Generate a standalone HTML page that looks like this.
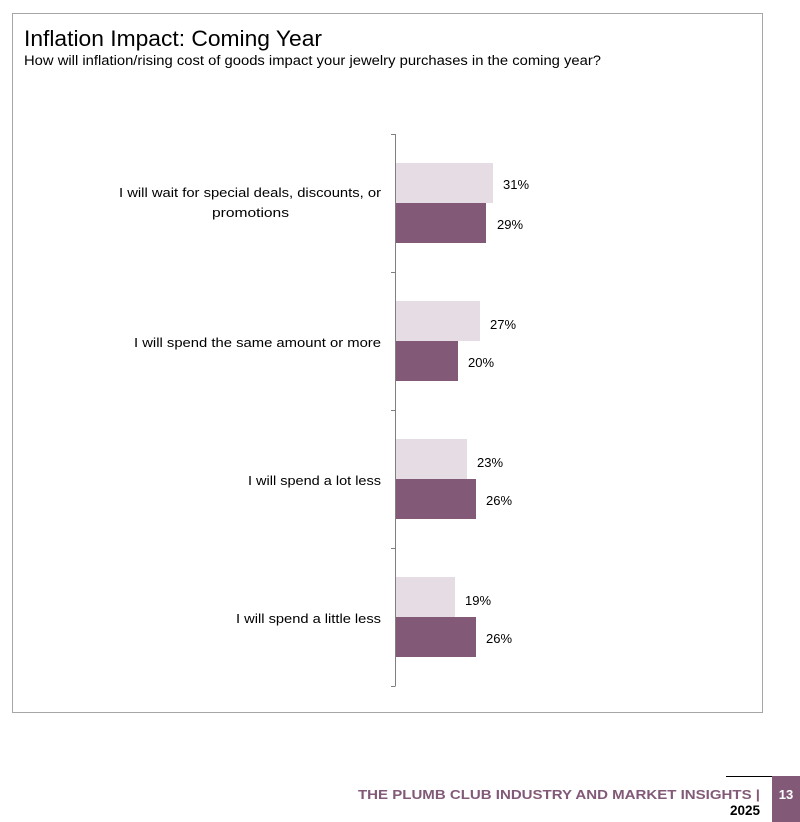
<!DOCTYPE html>
<html><head><meta charset="utf-8"><style>
body{margin:0;background:#fff;}
svg{display:block;font-family:"Liberation Sans",sans-serif;}
</style></head><body>
<svg width="800" height="822" viewBox="0 0 800 822" xmlns="http://www.w3.org/2000/svg">
<rect x="12.5" y="13.5" width="750" height="699" fill="#fff" stroke="#a6a6a6" stroke-width="1"/>
<text x="24" y="46" font-size="22" fill="#000" textLength="298" lengthAdjust="spacingAndGlyphs">Inflation Impact: Coming Year</text>
<text x="24" y="65" font-size="13.5" fill="#000" textLength="577" lengthAdjust="spacingAndGlyphs">How will inflation/rising cost of goods impact your jewelry purchases in the coming year?</text>
<g stroke="#808080" stroke-width="1">
<line x1="395.5" y1="134" x2="395.5" y2="686"/>
<line x1="391" y1="134.5" x2="395.5" y2="134.5"/>
<line x1="391" y1="272.5" x2="395.5" y2="272.5"/>
<line x1="391" y1="410.5" x2="395.5" y2="410.5"/>
<line x1="391" y1="548.5" x2="395.5" y2="548.5"/>
<line x1="391" y1="686.5" x2="395.5" y2="686.5"/>
</g>
<g fill="#e6dce4">
<rect x="396" y="163" width="97" height="40"/>
<rect x="396" y="301" width="84" height="40"/>
<rect x="396" y="439" width="71" height="40"/>
<rect x="396" y="577" width="59" height="40"/>
</g>
<g fill="#825a78">
<rect x="396" y="203" width="90" height="40"/>
<rect x="396" y="341" width="62" height="40"/>
<rect x="396" y="479" width="80" height="40"/>
<rect x="396" y="617" width="80" height="40"/>
</g>
<g font-size="13" fill="#000">
<text x="503" y="189">31%</text>
<text x="497" y="229">29%</text>
<text x="490" y="329">27%</text>
<text x="468" y="367">20%</text>
<text x="477" y="467">23%</text>
<text x="486" y="505">26%</text>
<text x="465" y="605">19%</text>
<text x="486" y="643">26%</text>
</g>
<g font-size="13" fill="#000">
<text x="119" y="197" textLength="262" lengthAdjust="spacingAndGlyphs">I will wait for special deals, discounts, or</text>
<text x="212" y="217" textLength="77" lengthAdjust="spacingAndGlyphs">promotions</text>
<text x="134" y="347" textLength="247" lengthAdjust="spacingAndGlyphs">I will spend the same amount or more</text>
<text x="248" y="485" textLength="133" lengthAdjust="spacingAndGlyphs">I will spend a lot less</text>
<text x="236" y="623" textLength="145" lengthAdjust="spacingAndGlyphs">I will spend a little less</text>
</g>
<line x1="726" y1="776.5" x2="772" y2="776.5" stroke="#000" stroke-width="1"/>
<rect x="772" y="776" width="28" height="46" fill="#825a78"/>
<text x="786" y="799" font-size="13" font-weight="bold" fill="#fff" text-anchor="middle">13</text>
<text x="358" y="799" font-size="13" font-weight="bold" fill="#825a78" textLength="402" lengthAdjust="spacingAndGlyphs">THE PLUMB CLUB INDUSTRY AND MARKET INSIGHTS |</text>
<text x="760" y="815" font-size="13.5" font-weight="bold" fill="#000" text-anchor="end">2025</text>
</svg>
</body></html>
